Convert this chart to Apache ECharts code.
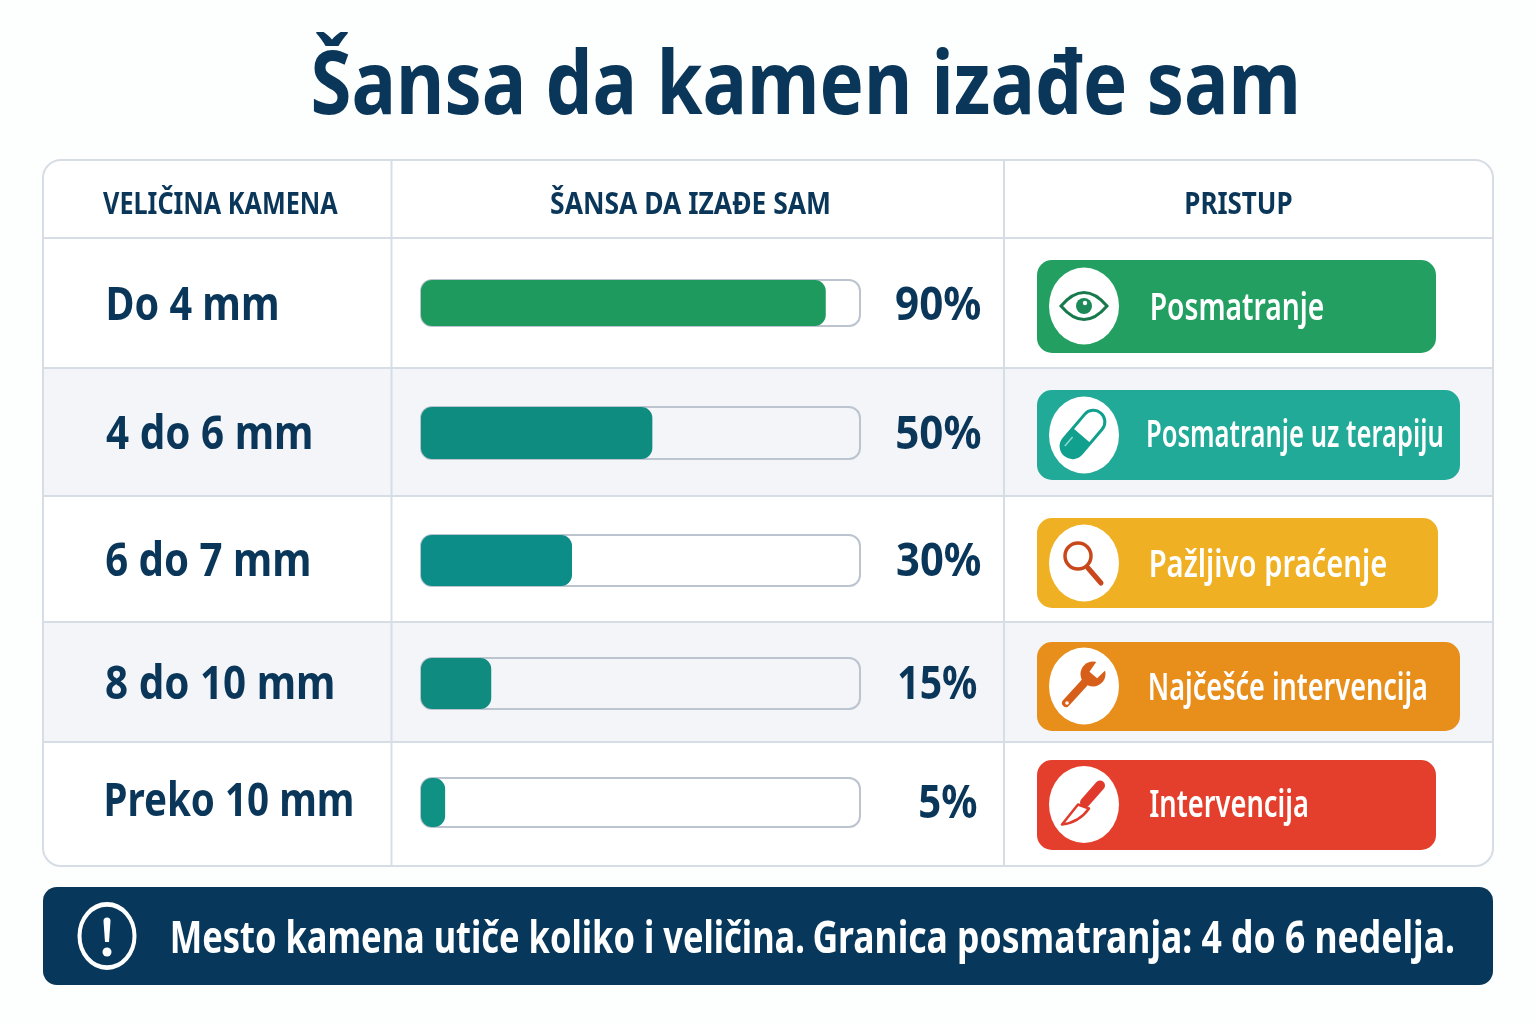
<!DOCTYPE html>
<html lang="sr">
<head>
<meta charset="utf-8">
<title>Šansa da kamen izađe sam</title>
<style>html,body{margin:0;padding:0;background:#fdfefe}#c{width:1536px;height:1024px}</style>
<script src="https://cdn.jsdelivr.net/npm/echarts@6/dist/echarts.min.js"></script>
</head>
<body>
<div id="c"></div>
<script>
// ---- Data ----
const titleText = 'Šansa da kamen izađe sam';
const headers = ['VELIČINA KAMENA', 'ŠANSA DA IZAĐE SAM', 'PRISTUP'];
const sizes = ['Do 4 mm', '4 do 6 mm', '6 do 7 mm', '8 do 10 mm', 'Preko 10 mm'];
const printedShares = [90, 50, 30, 15, 5];                // the numbers printed beside the bars
const drawnFill = [92.2, 52.7, 34.4, 16, 5.5];            // the filled share of each track as drawn
const approaches = ['Posmatranje', 'Posmatranje uz terapiju', 'Pažljivo praćenje', 'Najčešće intervencija', 'Intervencija'];
const footerSentences = ['Mesto kamena utiče koliko i veličina.', 'Granica posmatranja: 4 do 6 nedelja.'];

// ---- Layout and style ----
const NAVY = '#0a3659', LINE = '#d7dde5', FONT = '"Noto Sans"';
const trackBox = [[280, 46], [407, 52], [535, 51], [658, 51], [778, 49]];
const barColors = ['#1f9a5f', '#0f8c80', '#0d8d88', '#108b7f', '#0f9184'];
const trackFill = ['#ffffff', '#f3f5f8', '#ffffff', '#f3f5f8', '#ffffff'];
const sizeText = [[108, 277, 320], [106, 311, 449], [106, 309, 576], [106, 333, 699], [106, 352, 816]];
const pctText = [[896, 981, 320], [897, 981, 449], [897, 981, 576], [899, 977, 699], [920, 977, 818]];
const pillBox = [[1037, 260, 399, 93], [1037, 390, 423, 90], [1037, 518, 401, 90], [1037, 642, 423, 89], [1037, 760, 399, 90]];
const pillColor = ['#23a061', '#22aa98', '#efb023', '#e88e1b', '#e43f2c'];
const pillText = [[1152, 1323, 320], [1148, 1442, 447], [1151, 1386, 577], [1150, 1426, 700], [1150, 1307, 817]];
const iconY = [306, 435, 563, 686, 804.5];

const mctx = document.createElement('canvas').getContext('2d');
// Real text placed by its baseline and squeezed to the width it has in the picture.
function label(str, left, right, baseline, size, weight, fill) {
  const font = weight + ' ' + size + 'px ' + FONT;
  mctx.font = font; mctx.textBaseline = 'middle';
  const m = mctx.measureText(str);
  const drop = mctx.measureText('H').actualBoundingBoxDescent;
  const inkL = -m.actualBoundingBoxLeft, inkW = m.actualBoundingBoxRight + m.actualBoundingBoxLeft;
  const sx = (right - left) / inkW;
  return { type: 'text', z: 5, x: left - inkL * sx, y: baseline - drop, scaleX: sx,
    style: { text: str, x: 0, y: 0, font: font, fill: fill, align: 'left', verticalAlign: 'middle' } };
}
let shapeCount = 0;
function path(d, x, y, style, rotation) {
  const name = 'iconShape' + (shapeCount++);
  echarts.graphic.registerShape(name, echarts.graphic.extendPath(d, {}));
  return { type: name, z: 6, x: x, y: y, rotation: rotation || 0, style: style };
}
function disc(cx, cy, r, style) { return { type: 'circle', z: 6, shape: { cx: cx, cy: cy, r: r }, style: style }; }
function oval(x, y, r, sy, style) { return { type: 'circle', z: 6, x: x, y: y, scaleY: sy, shape: { cx: 0, cy: 0, r: r }, style: style }; }

const icons = [
  function (y) { const c = '#187a4c'; return [
    path('M-23 0Q0 -27 23 0Q0 27 -23 0Z', 1084, y, { fill: 'none', stroke: c, lineWidth: 3 }),
    disc(1084, y, 8, { fill: '#1c8a58' }), disc(1085, y - 3, 2.2, { fill: '#ffffff' })]; },
  function (y) { const c = '#12a08e'; const r = Math.PI / 4 + 0.08; return [
    path('M-16 -11.5H16A11.5 11.5 0 0 1 16 11.5H-16A11.5 11.5 0 0 1 -16 -11.5Z', 1083, y - 1, { fill: '#fff', stroke: c, lineWidth: 3 }, r),
    path('M-2 -11.5H-16A11.5 11.5 0 0 0 -16 11.5H-2Z', 1083, y - 1, { fill: c }, r),
    path('M-21 -6L-9 -6', 1083, y - 1, { fill: 'none', stroke: '#8fd8cd', lineWidth: 1.5 }, r)]; },
  function (y) { const c = '#c8481c'; return [
    disc(1078, y - 7, 13, { fill: 'none', stroke: c, lineWidth: 3.5 }),
    path('M4 5L17 20', 1084, y, { fill: 'none', stroke: c, lineWidth: 5, lineCap: 'round' })]; },
  function (y) { const c = '#d85f1a'; return [
    path('M-18 17L3 -6', 1084, y, { fill: 'none', stroke: c, lineWidth: 8, lineCap: 'round' }),
    disc(1093, y - 12, 12.5, { fill: c }),
    path('M5.5 -14.2L13.2 -25.5L22.7 -17L13.1 -7.8Z', 1084, y, { fill: '#ffffff' }),
    disc(1067, y + 17, 1.8, { fill: '#ffffff' })]; },
  function (y) { const c = '#e03a2c'; return [
    path('M1 -2L16 -19', 1084, y, { fill: 'none', stroke: c, lineWidth: 10, lineCap: 'round' }),
    path('M-6 0L-22 20Q-5 18 5 4Z', 1084, y, { fill: '#ffffff', stroke: c, lineWidth: 2.5, lineJoin: 'round' })]; }
];

const gfx = [];
// table frame
gfx.push({ type: 'rect', z: 1, shape: { x: 43, y: 160, width: 1450, height: 706, r: 18 }, style: { fill: '#ffffff', stroke: LINE, lineWidth: 2 } });
[[368, 128], [622, 120]].forEach(function (b) {
  gfx.push({ type: 'rect', z: 1, shape: { x: 44, y: b[0], width: 1448, height: b[1] }, style: { fill: '#f3f5f8' } });
});
[238, 368, 496, 622, 742].forEach(function (y) {
  gfx.push({ type: 'line', z: 2, shape: { x1: 44, y1: y, x2: 1492, y2: y }, style: { stroke: LINE, lineWidth: 2 } });
});
[391.5, 1004].forEach(function (x) {
  gfx.push({ type: 'line', z: 2, shape: { x1: x, y1: 161, x2: x, y2: 865 }, style: { stroke: LINE, lineWidth: 2 } });
});
// title and headers
gfx.push(label(titleText, 314, 1296, 114, 87, 'bold', NAVY));
gfx.push(label(headers[0], 103, 338, 213.5, 30, 'bold', NAVY));
gfx.push(label(headers[1], 551, 829, 213.5, 30, 'bold', NAVY));
gfx.push(label(headers[2], 1186, 1292, 213.5, 30, 'bold', NAVY));
// rows
sizes.forEach(function (s, i) {
  gfx.push(label(s, sizeText[i][0], sizeText[i][1], sizeText[i][2], 46, 'bold', NAVY));
  gfx.push(label(printedShares[i] + '%', pctText[i][0], pctText[i][1], pctText[i][2], 46, 'bold', NAVY));
  const p = pillBox[i];
  gfx.push({ type: 'rect', z: 3, shape: { x: p[0], y: p[1], width: p[2], height: p[3], r: 15 }, style: { fill: pillColor[i] } });
  gfx.push(oval(1084, iconY[i], 35, 1.1, { fill: '#ffffff' }));
  icons[i](iconY[i]).forEach(function (e) { gfx.push(e); });
  gfx.push(label(approaches[i], pillText[i][0], pillText[i][1], pillText[i][2], 37, '600', '#ffffff'));
});
// footer
gfx.push({ type: 'rect', z: 3, shape: { x: 43, y: 887, width: 1450, height: 98, r: 14 }, style: { fill: '#07385c' } });
gfx.push(oval(107, 936, 27.5, 1.15, { fill: 'none', stroke: '#ffffff', lineWidth: 4 }));
gfx.push(path('M103.5 921A3.5 3.5 0 0 1 110.5 921L109 942H105Z', 0, 0, { fill: '#ffffff' }));
gfx.push(disc(107, 952, 4.5, { fill: '#ffffff' }));
gfx.push(label(footerSentences[0], 172, 803, 953, 44, 'bold', '#ffffff'));
gfx.push(label(footerSentences[1], 814, 1453, 953, 44, 'bold', '#ffffff'));

const option = {
  animation: false,
  backgroundColor: '#fdfefe',
  graphic: { elements: gfx },
  grid: trackBox.map(function (t) { return { left: 421, width: 439, top: t[0], height: t[1], containLabel: false }; }),
  xAxis: sizes.map(function (s, i) {
    return { gridIndex: i, type: 'value', min: 0, max: 100, show: false };
  }),
  yAxis: sizes.map(function (s, i) {
    return { gridIndex: i, type: 'category', data: [s], show: false };
  }),
  series: sizes.map(function (s, i) {
    return {
      type: 'bar', name: s, xAxisIndex: i, yAxisIndex: i, data: [drawnFill[i]], barWidth: '100%', silent: true,
      showBackground: true,
      backgroundStyle: { color: trackFill[i], borderColor: '#bcc4d0', borderWidth: 2, borderRadius: 11 },
      itemStyle: { color: barColors[i], borderRadius: 11 }
    };
  })
};
echarts.init(document.getElementById('c')).setOption(option);
</script>
</body>
</html>
